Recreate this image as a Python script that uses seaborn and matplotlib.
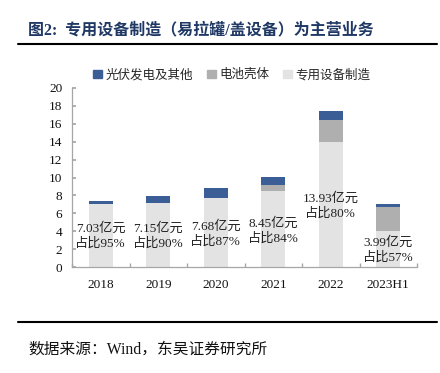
import matplotlib
matplotlib.use("Agg")
import matplotlib.pyplot as plt
import seaborn as sns
import pandas as pd
from matplotlib.lines import Line2D
from matplotlib.patches import Patch

years = ['2018', '2019', '2020', '2021', '2022', '2023H1']
special = [7.03, 7.15, 7.68, 8.45, 13.93, 3.99]   # 专用设备制造
battery = [0.00, 0.00, 0.00, 0.70, 2.45, 2.71]    # 电池壳体
pv = [0.37, 0.79, 1.15, 0.91, 1.06, 0.30]         # 光伏发电及其他
share = ['95%', '90%', '87%', '84%', '80%', '57%']
label_y = [3.46, 3.46, 3.7, 4.05, 6.8, 1.9]

c_pv = '#3A5E95'
c_bat = '#AFAFAF'
c_sp = '#E3E3E3'

sns.set_theme(style='white')
FAM = ['Liberation Serif', 'Noto Sans CJK SC']
plt.rcParams['font.family'] = FAM

df = pd.DataFrame({'year': years, 'special': special, 'battery': battery, 'pv': pv})
df['lvl2'] = df['special'] + df['battery']
df['lvl3'] = df['lvl2'] + df['pv']

fig = plt.figure(figsize=(4.4, 3.73), dpi=100)
ax = fig.add_axes([72/440, 1-267/373, 345/440, 179/373])

w = 0.42
sns.barplot(data=df, x='year', y='lvl3', color=c_pv, width=w, saturation=1, ax=ax, linewidth=0)
sns.barplot(data=df, x='year', y='lvl2', color=c_bat, width=w, saturation=1, ax=ax, linewidth=0)
sns.barplot(data=df, x='year', y='special', color=c_sp, width=w, saturation=1, ax=ax, linewidth=0)

for i, (v, s, yy) in enumerate(zip(special, share, label_y)):
    ax.text(i, yy, f'{v:.2f}亿元\n占比{s}', ha='center', va='center', fontsize=9.5,
            color='#222222', linespacing=1.25, family=FAM)

ax.set_xlim(-0.5, 5.5)
ax.set_ylim(0, 20)
ax.set_yticks(range(0, 21, 2))
ax.set_xlabel('')
ax.set_ylabel('')
for s in ['top', 'right']:
    ax.spines[s].set_visible(False)
for s in ['left', 'bottom']:
    ax.spines[s].set_color('#A6A6A6')
    ax.spines[s].set_linewidth(0.9)
ax.tick_params(axis='y', direction='in', length=3, color='#A6A6A6', pad=7, labelsize=9.5, left=True)
ax.tick_params(axis='x', which='major', length=0, pad=9, labelsize=9.5)
ax.set_xticks([i - 0.5 for i in range(7)], minor=True)
ax.tick_params(axis='x', which='minor', direction='in', length=3, color='#A6A6A6', bottom=True)
for lab in ax.get_xticklabels() + ax.get_yticklabels():
    lab.set_color('#111111')

handles = [Patch(color=c_pv, label='光伏发电及其他'),
           Patch(color=c_bat, label='电池壳体'),
           Patch(color=c_sp, label='专用设备制造')]
fig.legend(handles=handles, loc='center', bbox_to_anchor=(0.527, 1-75/373), ncol=3,
           frameon=False, handlelength=0.7, handleheight=0.7,
           handletextpad=0.3, columnspacing=1.1, prop={'family': FAM, 'size': 9})

fig.text(28/440, 1-30/373, '图2:  专用设备制造（易拉罐/盖设备）为主营业务', ha='left', va='center',
         fontsize=11.5, fontweight='bold', color='#1F3864', family=FAM)
fig.add_artist(Line2D([18/440, 437/440], [1-44/373, 1-44/373], color='black', lw=1.5))
fig.add_artist(Line2D([18/440, 437/440], [1-322/373, 1-322/373], color='black', lw=1.5))
fig.text(28/440, 1-350/373, '数据来源：Wind，东吴证券研究所', ha='left', va='center',
         fontsize=11.3, color='#111111', family=FAM)

fig.savefig('out.png', dpi=100)
